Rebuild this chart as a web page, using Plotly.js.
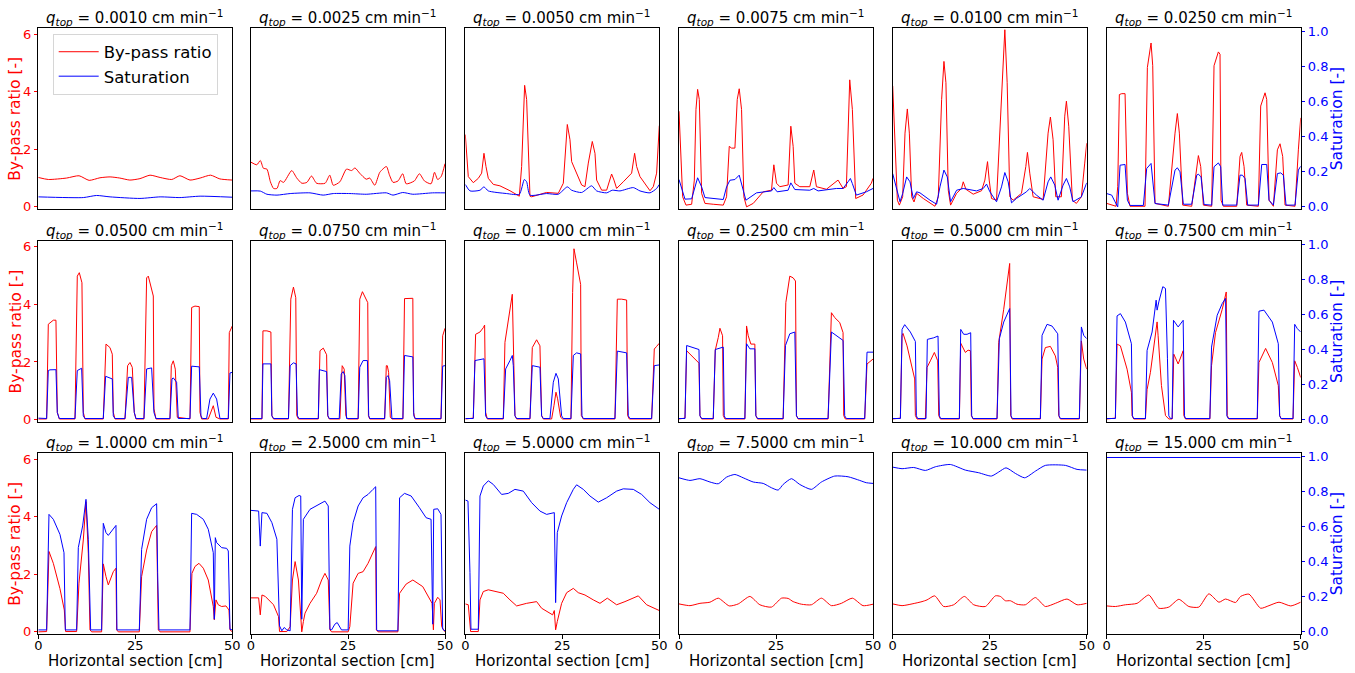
<!DOCTYPE html>
<html>
<head>
<meta charset="utf-8">
<script src="https://cdn.plot.ly/plotly-3.0.1.min.js"></script>
<style>html,body{margin:0;padding:0;background:#fff;}#chart{width:1355px;height:673px;}</style>
</head>
<body>
<div id="chart"></div>
<script>
// ---------------- DATA ----------------
const qLabels = ["0.0010","0.0025","0.0050","0.0075","0.0100","0.0250","0.0500","0.0750","0.1000","0.2500","0.5000","0.7500","1.0000","2.5000","5.0000","7.5000","10.000","15.000"];
const xTicks = [0, 25, 50];
const bpTicks = [0, 2, 4, 6];
const satTicks = [0, 0.2, 0.4, 0.6, 0.8, 1.0];

// q = 0.0010
const bp1x = [0,2.6,7.3,10.5,13.1,15.9,18.5,21,23.6,26.2,28.8,31.4,34.4,36.5,39.1,41.7,44.4,46.8,50];
const bp1y = [1.02,0.95,1.0,1.08,0.92,1.01,1.04,1.0,0.93,0.98,1.1,1.02,0.95,1.08,0.93,1.0,1.1,0.97,0.93];
const sat1x = [0,11.6,15.0,18.5,26.2,31.4,36.5,41.7,50];
const sat1y = [0.057,0.053,0.065,0.057,0.048,0.057,0.053,0.061,0.055];
// q = 0.0025
const bp2x = [0,1.5,2.4,3.2,4.1,5.0,5.8,6.7,7.5,8.4,10.5,11.8,13.1,14.4,15.6,16.9,19.1,20.3,21.2,22.9,24.6,25.9,26.8,28.0,29.7,30.6,31.9,33.2,34.9,35.7,36.6,37.9,39.1,40.0,42.1,43.4,44.7,46.4,47.3,48.1,49.0,50];
const bp2y = [1.55,1.46,1.61,1.34,1.31,0.87,0.64,0.64,0.91,0.85,1.26,1.0,0.82,0.85,1.07,0.82,0.82,1.1,0.75,0.87,1.31,1.26,1.35,1.17,0.96,1.0,0.75,1.2,1.4,1.1,0.85,0.9,1.15,0.8,0.9,1.15,0.9,0.8,1.2,0.95,1.05,1.5];
const sat2x = [0,2.4,4.1,6.7,10.1,15.2,18.6,21.2,25.5,29.7,34.9,36.6,39.1,41.7,46.8,50];
const sat2y = [0.091,0.09,0.072,0.067,0.076,0.08,0.067,0.076,0.076,0.072,0.08,0.067,0.082,0.072,0.08,0.08];
// q = 0.0050
const bp3x = [0,0.77,2.06,3.35,4.21,4.81,5.33,5.93,7.22,8.93,11.51,13.92,14.52,15.29,15.81,16.67,17.1,20.96,23.97,25.26,26.29,26.98,27.41,28.69,29.98,30.84,31.7,32.73,33.42,33.85,35.14,36.43,37.71,38.32,39.0,40.72,42.87,43.64,44.16,45.02,46.74,47.6,48.45,49.31,50];
const bp3y = [2.51,1.05,0.84,0.99,1.17,1.86,1.4,0.99,0.78,0.73,0.56,0.37,1.4,4.22,3.73,0.37,0.35,0.5,0.47,0.82,2.86,2.33,1.57,1.17,0.76,0.7,1.52,2.27,1.86,0.93,0.58,0.58,1.14,0.93,0.64,0.87,1.17,1.86,1.4,1.05,0.7,0.56,0.7,1.17,2.82];
const sat3x = [0,1.2,3.78,4.81,5.93,10.65,13.92,15.21,15.81,16.67,20.96,23.97,26.29,27.41,29.98,32.56,33.85,36.43,37.89,39.86,43.3,45.02,47.6,49.31,50];
const sat3y = [0.128,0.091,0.095,0.114,0.091,0.076,0.072,0.156,0.143,0.067,0.076,0.072,0.114,0.095,0.082,0.12,0.091,0.08,0.095,0.091,0.11,0.091,0.08,0.105,0.128];
// q = 0.0075
const bp4x = [0,0.43,0.94,1.8,3.26,3.95,4.37,4.8,5.23,5.83,6.69,8.83,11.41,12.26,12.95,13.55,14.41,15.01,15.52,16.12,16.72,17.41,19.13,21.7,23.84,24.44,25.13,25.99,28.13,28.82,29.42,29.85,31.13,33.71,34.73,35.42,37.99,40.99,42.28,43.14,44.0,44.68,45.54,47.43,49.57,50];
const bp4y = [3.32,1.75,0.35,0.06,0.09,0.93,3.38,4.08,3.73,0.47,0.12,0.09,0.06,0.35,2.1,2.04,2.04,3.73,4.1,3.38,0.35,0.0,0.12,0.52,0.58,1.46,0.82,0.7,0.76,2.8,2.1,0.82,0.7,0.7,1.28,0.7,0.61,0.93,0.64,0.7,4.41,3.38,0.29,0.41,0.82,0.99];
const sat4x = [0,1.54,3.26,4.8,5.83,6.69,11.41,12.26,13.12,14.41,15.52,16.38,17.24,19.98,23.84,24.44,25.3,28.13,28.82,29.85,33.71,34.73,35.85,40.57,42.28,43.57,44.17,44.68,45.71,48.28,50];
const sat4y = [0.156,0.044,0.046,0.166,0.114,0.053,0.042,0.114,0.152,0.156,0.181,0.114,0.038,0.08,0.091,0.11,0.086,0.095,0.137,0.099,0.095,0.105,0.091,0.105,0.105,0.143,0.162,0.133,0.067,0.086,0.105];
// q = 0.0100
const bp5x = [0,0.6,1.2,1.72,2.57,3.17,3.77,4.29,4.89,5.49,6.17,7.89,10.89,11.75,12.61,13.21,13.72,14.32,14.92,16.47,17.75,18.18,18.87,20.75,22.9,23.76,24.44,24.87,25.47,26.76,28.04,28.9,29.5,30.19,31.05,33.19,34.31,34.73,35.33,36.19,38.77,40.05,40.65,41.34,42.02,43.48,44.34,44.77,45.37,46.31,47.34,48.63,49.49,50];
const bp5y = [4.2,1.98,0.23,0.06,0.35,2.56,3.4,2.56,0.35,0.17,0.47,0.29,0.02,0.35,3.73,5.05,4.31,0.58,0.06,0.47,0.64,0.87,0.61,0.44,0.56,0.93,1.57,0.93,0.29,0.23,3.73,6.15,4.31,0.35,0.23,0.47,1.4,1.89,1.17,0.35,0.26,2.56,3.12,2.33,0.35,0.35,3.15,3.67,2.8,0.23,0.12,0.35,1.52,2.21];
const sat5x = [0,1.2,1.89,2.57,3.6,4.46,5.32,6.17,7.03,9.61,11.32,12.18,13.21,14.07,14.92,16.47,18.18,21.61,23.33,24.19,25.04,26.76,28.04,28.9,29.76,30.62,31.9,34.48,35.33,37.05,38.77,40.05,40.74,41.77,42.62,43.91,44.77,45.63,46.48,48.63,49.49,50];
const sat5y = [0.19,0.076,0.029,0.076,0.171,0.143,0.048,0.086,0.08,0.038,0.015,0.114,0.21,0.171,0.029,0.095,0.105,0.091,0.105,0.13,0.086,0.029,0.114,0.196,0.143,0.023,0.048,0.086,0.105,0.067,0.038,0.143,0.171,0.124,0.038,0.124,0.162,0.114,0.029,0.057,0.114,0.137];
// q = 0.0250
const bp6x = [0,1.29,2.41,2.84,3.26,3.87,4.73,5.33,6.01,9.88,10.48,11.43,11.86,12.46,15.9,17.61,18.21,18.73,19.59,21.91,23.2,23.63,24.23,24.91,27.06,27.66,28.78,29.21,29.47,30.07,33.51,34.36,34.79,35.4,36.08,39.09,39.69,40.81,41.24,41.84,42.96,43.99,44.67,45.36,45.96,48.54,49.4,50];
const bp6y = [0.12,0.08,0.02,0.7,3.9,3.93,3.93,0.47,0.02,0.02,4.84,5.69,4.9,0.12,0.02,2.56,3.24,2.56,0.06,0.02,1.4,1.78,1.4,0.06,0.02,4.9,5.38,5.3,0.23,0.02,0.02,1.75,1.89,1.4,0.06,0.02,3.5,3.96,3.73,0.23,0.02,1.98,2.19,1.75,0.06,0.02,1.98,3.09];
const sat6x = [0,1.29,2.15,2.84,3.44,4.73,5.33,6.01,9.45,10.31,11.43,12.46,15.9,17.61,18.21,18.9,19.76,21.91,23.2,23.63,24.31,25.09,27.06,27.66,28.78,29.38,29.9,33.51,34.36,34.97,35.65,36.34,39.09,39.95,41.24,41.84,42.96,43.99,44.85,45.53,46.22,48.54,49.4,50];
const sat6y = [0.076,0.067,0.029,0.0,0.238,0.242,0.038,0.008,0.008,0.219,0.248,0.019,0.01,0.21,0.223,0.2,0.015,0.015,0.181,0.187,0.171,0.013,0.01,0.229,0.251,0.229,0.01,0.01,0.181,0.181,0.162,0.01,0.01,0.242,0.242,0.038,0.01,0.19,0.194,0.181,0.01,0.01,0.21,0.232];
// q = 0.0500
const bp7x = [0,2.15,2.58,3.87,4.55,4.9,5.41,9.45,10.05,10.57,11.25,11.6,12.03,16.75,17.44,18.47,19.07,19.33,19.76,22.34,23.02,23.63,24.23,24.74,25.17,27.23,27.92,28.35,29.64,29.81,30.33,33.93,34.28,34.79,35.31,35.82,39.09,39.52,40.38,41.49,41.67,42.1,43.81,45.1,45.79,46.82,48.97,49.23,50];
const bp7y = [0.02,0.02,3.31,3.45,3.45,0.25,0.02,0.02,4.98,5.1,4.75,0.25,0.02,0.02,2.62,2.5,2.27,0.25,0.02,0.02,1.87,1.98,1.81,0.25,0.02,0.02,4.92,4.98,4.29,0.37,0.02,0.02,1.87,2.04,1.75,0.08,0.02,3.89,3.94,3.92,0.25,0.02,0.02,0.48,0.08,0.02,0.02,3.02,3.25];
const sat7x = [0,2.15,2.58,3.01,4.55,4.9,5.41,9.45,10.05,11.17,11.6,12.03,16.75,17.35,19.07,19.33,19.76,22.34,23.2,24.06,24.74,25.17,27.23,27.92,29.21,29.81,30.33,33.93,34.45,34.79,35.65,36.08,39.09,39.52,41.49,41.92,42.27,43.38,44.24,45.1,45.96,46.82,48.97,49.4,50];
const sat7y = [0.008,0.006,0.28,0.284,0.285,0.04,0.006,0.006,0.28,0.293,0.021,0.006,0.006,0.247,0.232,0.021,0.006,0.006,0.241,0.241,0.04,0.006,0.006,0.289,0.295,0.04,0.006,0.006,0.232,0.238,0.213,0.006,0.006,0.305,0.301,0.021,0.006,0.006,0.117,0.151,0.117,0.006,0.006,0.266,0.27];
// q = 0.0750
const bp8x = [0,2.82,3.08,4.1,5.13,5.38,5.81,9.66,10.26,10.94,11.54,11.79,12.22,17.35,17.78,18.63,19.49,19.74,20.17,22.91,23.5,24.02,24.44,24.87,27.61,28.03,28.72,29.57,30.09,30.26,30.6,34.44,34.87,35.13,35.47,35.9,36.32,39.15,39.57,41.71,41.88,42.31,48.97,49.4,50];
const bp8y = [0.02,0.02,3.08,3.08,3.04,0.14,0.02,0.02,4.18,4.6,4.23,0.14,0.02,0.02,2.39,2.48,2.25,0.14,0.02,0.02,1.87,1.75,0.14,0.02,0.02,4.18,4.44,4.23,4.06,0.14,0.02,0.02,1.87,1.87,1.64,0.08,0.02,0.02,4.2,4.21,0.25,0.02,0.02,2.91,3.17];
const sat8x = [0,2.82,3.08,5.13,5.38,5.81,9.66,10.09,10.94,11.62,11.97,12.39,17.35,17.61,19.49,19.83,20.17,22.74,23.25,23.76,24.19,24.62,27.61,28.03,28.89,30.0,30.34,30.6,34.44,34.87,35.3,35.73,36.32,39.15,39.57,41.71,41.97,42.31,48.97,49.4,50];
const sat8y = [0.006,0.006,0.318,0.318,0.021,0.006,0.006,0.308,0.324,0.318,0.021,0.006,0.006,0.285,0.274,0.021,0.006,0.006,0.261,0.274,0.251,0.006,0.006,0.299,0.337,0.337,0.021,0.006,0.006,0.241,0.251,0.222,0.006,0.006,0.366,0.358,0.021,0.006,0.006,0.305,0.308];
// q = 0.1000
const bp9x = [0,2.06,2.66,3.78,4.64,4.98,5.24,5.67,9.79,10.22,12.11,12.37,12.8,13.23,16.67,17.27,18.38,19.24,19.67,20.1,22.25,22.85,23.37,23.8,24.57,25.09,27.23,27.66,28.01,28.69,29.73,29.9,30.41,38.57,39.18,40.29,41.58,41.84,42.27,48.02,48.71,49.31,50];
const bp9y = [0.02,0.05,2.96,3.04,3.19,3.28,0.25,0.02,0.02,2.68,4.35,2.33,0.14,0.02,0.02,2.5,2.77,2.56,0.14,0.02,0.02,0.48,0.95,0.72,0.08,0.02,0.02,4.41,5.93,5.44,4.69,0.14,0.02,0.02,4.18,4.18,4.15,0.14,0.02,0.02,2.45,2.54,2.65];
const sat9x = [0,2.06,2.49,4.81,5.24,5.67,9.79,10.4,11.51,12.11,12.37,12.8,13.23,16.67,17.27,19.24,19.67,20.1,21.82,22.68,23.37,23.97,24.83,25.26,27.23,27.84,28.69,29.73,30.07,30.41,38.57,39.18,41.58,42.01,42.44,48.02,48.71,50];
const sat9y = [0.006,0.006,0.337,0.347,0.021,0.006,0.006,0.289,0.337,0.366,0.308,0.021,0.006,0.006,0.308,0.299,0.021,0.006,0.006,0.213,0.264,0.232,0.021,0.006,0.006,0.366,0.381,0.375,0.021,0.006,0.006,0.391,0.381,0.021,0.006,0.006,0.308,0.312];
// q = 0.2500
const bp10x = [0,1.54,1.97,3.69,5.15,5.4,5.83,8.83,9.35,10.12,10.55,11.23,11.41,11.84,16.98,17.41,17.84,18.52,19.55,19.81,20.24,26.84,27.53,28.56,29.42,30.02,30.27,30.7,38.42,39.28,40.14,41.42,42.28,42.45,42.88,47.86,48.46,50];
const bp10y = [0.02,0.05,2.39,2.16,1.96,0.14,0.02,0.02,2.41,2.85,3.17,2.91,0.14,0.02,0.02,3.25,2.91,2.62,2.62,0.14,0.02,0.02,4.06,4.98,4.92,4.81,0.14,0.02,0.02,3.71,3.54,3.37,3.02,0.14,0.02,0.02,1.93,2.1];
const sat10x = [0,1.54,1.97,5.15,5.4,5.83,8.83,9.35,11.41,11.66,12.01,16.98,17.41,18.27,19.55,19.81,20.24,26.84,27.44,28.56,29.85,30.27,30.7,38.42,39.28,42.28,42.71,43.14,47.86,48.46,50];
const sat10y = [0.006,0.006,0.423,0.4,0.021,0.006,0.006,0.4,0.414,0.021,0.006,0.006,0.433,0.404,0.404,0.021,0.006,0.006,0.423,0.49,0.5,0.021,0.006,0.006,0.5,0.452,0.021,0.006,0.006,0.385,0.385];
// q = 0.5000
const bp11x = [0,1.98,2.41,2.66,3.69,5.67,5.84,6.27,8.42,8.85,9.71,10.74,11.6,11.86,12.29,17.18,17.53,18.04,18.73,19.42,20.02,20.27,20.7,26.89,27.32,28.61,30.15,30.41,30.76,38.06,38.49,39.35,40.64,41.92,42.53,42.78,43.21,48.11,48.63,49.23,50];
const bp11y = [0.02,0.05,2.91,2.99,2.56,1.41,0.14,0.02,0.02,1.81,2.04,2.33,2.04,0.14,0.02,0.02,2.65,2.5,2.33,2.41,2.39,0.14,0.02,0.02,2.68,3.83,5.42,0.14,0.02,0.02,2.1,2.5,2.54,2.21,1.81,0.14,0.02,0.02,2.73,2.1,1.75];
const sat11x = [0,1.98,2.41,3.09,4.55,5.84,6.1,6.44,8.59,8.93,10.57,11.68,12.03,12.37,17.18,17.53,18.3,19.16,20.1,20.36,20.7,26.89,27.49,28.61,30.15,30.5,30.84,38.06,38.49,39.78,41.07,42.53,42.87,43.21,48.11,48.63,49.23,50];
const sat11y = [0.006,0.006,0.515,0.542,0.5,0.446,0.021,0.006,0.006,0.458,0.467,0.477,0.021,0.006,0.006,0.515,0.487,0.487,0.496,0.021,0.006,0.006,0.462,0.557,0.634,0.021,0.006,0.006,0.481,0.544,0.534,0.49,0.021,0.006,0.006,0.529,0.481,0.462];
// q = 0.7500
const bp12x = [0,2.24,2.67,3.53,5.25,6.37,6.54,6.97,9.98,10.41,11.27,12.13,12.99,13.25,14.11,15.15,16.01,16.87,17.3,18.42,19.71,19.88,20.31,26.59,27.02,28.05,29.78,30.81,31.07,31.5,38.81,39.24,40.96,42.69,44.23,44.58,45.01,48.02,48.45,49.14,50];
const bp12y = [0.02,0.05,2.62,2.56,1.75,0.95,0.14,0.02,0.02,1.04,1.64,2.45,3.39,2.91,1.18,0.14,0.02,0.02,2.27,1.93,2.39,0.14,0.02,0.02,1.87,3.02,3.83,4.43,0.14,0.02,0.02,1.98,2.47,1.98,1.18,0.14,0.02,0.02,2.04,1.81,1.46];
const sat12x = [0,2.24,2.67,3.53,4.82,6.37,6.63,6.97,9.98,10.41,11.7,12.74,12.99,13.43,14.46,15.15,15.66,16.01,16.44,16.87,17.21,18.42,19.71,20.05,20.31,26.59,27.02,28.48,29.78,30.64,30.98,31.33,38.81,39.24,40.53,42.69,44.23,44.58,44.92,48.02,48.45,49.14,50];
const sat12y = [0.006,0.006,0.592,0.605,0.557,0.433,0.021,0.006,0.006,0.395,0.5,0.682,0.625,0.672,0.759,0.749,0.347,0.021,0.006,0.006,0.567,0.529,0.567,0.021,0.006,0.006,0.414,0.596,0.663,0.692,0.021,0.006,0.006,0.619,0.625,0.557,0.433,0.021,0.006,0.006,0.544,0.519,0.5];
// q = 1.0000
const bp13x = [0,2.15,2.75,3.87,5.58,6.7,7.04,9.88,10.48,11.6,12.29,12.89,13.32,13.75,16.32,16.75,17.44,18.04,19.33,20.02,20.19,20.62,26.03,26.63,27.92,29.21,30.5,30.93,31.36,39.09,39.6,40.38,41.41,42.53,43.81,45.1,45.36,45.53,45.79,46.39,47.25,48.37,49.14,49.4,50];
const bp13y = [0.0,0.01,2.79,2.38,1.5,0.76,0.01,0.01,1.69,3.19,4.52,2.73,0.07,0.0,0.0,2.36,1.92,1.63,2.09,2.21,0.07,0.0,0.0,1.92,2.84,3.48,3.7,0.07,0.0,0.0,2.03,2.27,2.38,2.21,1.8,0.88,0.42,0.65,1.11,0.94,0.88,0.9,0.76,0.07,0.0];
const sat13x = [0,2.15,2.75,3.87,5.58,6.62,6.96,9.88,10.31,11.43,12.29,12.89,13.49,16.32,16.75,17.44,18.04,19.33,20.02,20.27,26.03,26.63,27.92,29.21,30.5,30.76,31.1,39.09,39.52,40.81,42.53,43.81,45.1,45.36,45.62,45.96,47.25,48.54,48.97,49.4,50];
const sat13y = [0.011,0.011,0.671,0.643,0.557,0.452,0.011,0.011,0.481,0.605,0.757,0.529,0.011,0.011,0.62,0.567,0.551,0.586,0.608,0.011,0.011,0.471,0.643,0.709,0.732,0.338,0.011,0.011,0.677,0.671,0.643,0.586,0.452,0.072,0.538,0.51,0.481,0.477,0.462,0.015,0.011];
// q = 2.5000
const bp14x = [0,1.97,2.39,2.82,3.68,5.81,7.09,7.35,9.23,10.09,10.68,11.37,12.22,12.65,13.08,13.5,13.93,15.21,16.92,18.21,19.06,19.91,20.34,20.77,25.04,25.47,26.32,27.61,28.89,30.17,31.45,32.14,32.31,32.74,37.86,38.29,39.99,41.71,44.27,45.98,46.67,47.01,47.26,48.12,48.72,49.15,50];
const bp14y = [1.18,1.18,0.59,1.28,1.23,0.94,0.53,0.01,0.01,0.18,1.8,2.44,1.8,0.76,0.0,0.36,0.65,0.99,1.34,1.8,2.03,1.8,0.07,0.0,0.0,0.18,1.69,2.03,2.09,2.38,2.73,2.96,0.07,0.0,0.0,1.34,1.66,1.8,1.57,1.17,0.99,0.07,0.99,1.2,1.11,0.18,0.0];
const sat14x = [0,1.97,2.39,2.82,4.1,5.38,6.67,7.35,7.95,8.55,9.23,10.09,10.68,11.37,12.39,12.82,13.08,13.5,15.21,17.35,19.06,19.91,20.34,20.77,21.62,22.22,22.91,23.33,25.04,25.47,26.32,27.61,28.89,30.17,31.45,32.14,32.39,32.74,37.86,38.29,39.57,41.28,43.42,45.13,46.41,46.84,47.09,48.12,48.97,49.4,50];
const sat14y = [0.694,0.69,0.49,0.681,0.677,0.624,0.529,0.034,0.006,0.025,0.011,0.006,0.7,0.766,0.779,0.776,0.072,0.643,0.7,0.728,0.747,0.719,0.015,0.011,0.044,0.053,0.025,0.011,0.011,0.49,0.624,0.719,0.766,0.785,0.814,0.829,0.011,0.006,0.006,0.766,0.791,0.776,0.709,0.652,0.643,0.044,0.7,0.703,0.671,0.015,0.006];
// q = 5.0000
const bp15x = [0,0.77,1.37,3.35,3.78,4.64,5.93,7.65,9.79,11.51,13.23,15.81,18.38,19.67,21.39,22.51,22.94,23.28,23.71,24.83,26.12,27.84,29.12,30.84,32.99,34.71,36.6,39.0,41.15,44.59,46.74,48.45,50];
const bp15y = [0.97,0.94,0.01,0.01,1.11,1.4,1.46,1.4,1.34,1.11,0.9,0.99,1.05,0.82,0.67,0.59,0.74,0.07,0.36,0.99,1.36,1.51,1.36,1.28,1.11,0.99,1.17,0.94,1.05,1.25,0.94,0.82,0.74];
const sat15x = [0,0.69,1.2,1.46,3.35,3.78,4.64,5.93,7.22,9.36,11.08,12.8,14.95,17.1,19.24,20.96,22.94,23.28,23.71,24.83,26.12,27.84,28.69,30.41,32.13,34.28,36.43,39.0,40.72,43.3,45.45,47.59,50];
const sat15y = [0.753,0.747,0.338,0.015,0.015,0.776,0.833,0.863,0.842,0.785,0.791,0.814,0.804,0.738,0.69,0.671,0.681,0.167,0.567,0.662,0.738,0.814,0.84,0.814,0.776,0.741,0.766,0.804,0.817,0.814,0.785,0.738,0.7];
// q = 7.5000
const bp16x = [0,2.83,5.4,7.98,10.12,12.95,15.27,18.27,20.84,23.84,26.42,28.13,29.42,31.56,34.13,36.71,39.28,41.85,44.68,47.43,50];
const bp16y = [0.97,0.91,0.99,1.03,1.17,0.9,0.97,1.23,0.94,0.86,1.17,1.16,1.05,0.96,0.94,1.17,0.91,0.99,1.17,0.91,0.96];
const sat16x = [0,2.83,5.4,7.98,10.12,12.26,14.41,16.55,19.13,21.7,23.84,25.56,26.84,28.99,31.13,34.13,36.71,40.14,43.57,46.57,48.28,50];
const sat16y = [0.88,0.865,0.875,0.856,0.846,0.884,0.899,0.88,0.856,0.848,0.823,0.81,0.842,0.875,0.842,0.814,0.856,0.89,0.886,0.865,0.852,0.848];
// q = 10.000
const bp17x = [0,2.41,4.98,7.56,8.85,10.82,13.14,15.72,18.47,20.88,23.88,26.46,27.75,29.04,30.33,32.04,34.19,36.77,39.35,41.92,44.93,47.51,50];
const bp17y = [0.97,0.91,0.97,1.05,1.11,1.25,0.88,0.94,1.23,0.94,0.88,1.25,1.23,1.08,1.08,0.96,0.94,1.19,0.88,0.99,1.14,0.94,0.99];
const sat17x = [0,2.41,5.41,8.42,11.0,14.86,18.73,22.16,25.43,27.32,29.21,31.62,34.02,36.77,39.35,44.5,47.51,50];
const sat17y = [0.941,0.932,0.939,0.922,0.943,0.956,0.924,0.909,0.89,0.913,0.937,0.905,0.88,0.918,0.951,0.951,0.928,0.924];
// q = 15.000
const bp18x = [0,2.24,4.82,7.83,10.84,13.43,16.01,18.59,21.17,23.75,26.33,28.92,30.64,33.22,34.51,36.66,39.67,41.82,44.41,47.42,50];
const bp18y = [0.9,0.88,0.94,0.99,1.28,0.82,0.86,1.13,0.88,0.86,1.32,1.03,1.14,1.02,1.23,1.31,0.82,0.91,1.03,0.9,1.03];
const sat18x = [0,50];
const sat18y = [0.996,0.996];

const bpX = [bp1x,bp2x,bp3x,bp4x,bp5x,bp6x,bp7x,bp8x,bp9x,bp10x,bp11x,bp12x,bp13x,bp14x,bp15x,bp16x,bp17x,bp18x];
const bpY = [bp1y,bp2y,bp3y,bp4y,bp5y,bp6y,bp7y,bp8y,bp9y,bp10y,bp11y,bp12y,bp13y,bp14y,bp15y,bp16y,bp17y,bp18y];
const satX = [sat1x,sat2x,sat3x,sat4x,sat5x,sat6x,sat7x,sat8x,sat9x,sat10x,sat11x,sat12x,sat13x,sat14x,sat15x,sat16x,sat17x,sat18x];
const satY = [sat1y,sat2y,sat3y,sat4y,sat5y,sat6y,sat7y,sat8y,sat9y,sat10y,sat11y,sat12y,sat13y,sat14y,sat15y,sat16y,sat17y,sat18y];

// ---------------- LAYOUT ----------------
const W = 1355, H = 673;
const FONT = "DejaVu Sans, Liberation Sans, sans-serif";
const RED = "#ff0000", BLUE = "#0000ff";
const colLeft = [38.3, 251.0, 465.3, 679.0, 892.7, 1106.7];
const colW = 194;
const rowTop = [28.3, 241.0, 453.3];
const rowH = 181;
const bpRange = [-0.085, 6.2];
const satRange = [-0.014, 1.02];
// panels whose curves are drawn smoothly in the reference
const smoothBp = [0, 1, 15, 16, 17];
const smoothSat = [0, 1, 2, 15, 16];

const traces = [];
const layout = {
  width: W, height: H,
  margin: {l: 0, r: 0, t: 0, b: 0},
  paper_bgcolor: "#fff", plot_bgcolor: "#fff",
  font: {family: FONT, size: 13, color: "#000"},
  showlegend: true,
  legend: {
    x: 52.7 / W, y: 1 - 33.5 / H, xanchor: "left", yanchor: "top",
    bgcolor: "rgba(255,255,255,0.8)", bordercolor: "#d6d6d6", borderwidth: 1,
    font: {family: FONT, size: 16.5, color: "#000"},
    itemwidth: 40,
    tracegroupgap: 0
  },
  annotations: [],
  shapes: []
};

for (let i = 0; i < 18; i++) {
  const n = i + 1;
  const r = Math.floor(i / 6), c = i % 6;
  const x0 = colLeft[c] / W, x1 = (colLeft[c] + colW) / W;
  const yTop = 1 - rowTop[r] / H, yBot = 1 - (rowTop[r] + rowH) / H;
  const xa = n === 1 ? "x" : "x" + n;
  const ya = n === 1 ? "y" : "y" + n;
  const yb = "y" + (18 + n);
  const bottom = r === 2, left = c === 0, right = c === 5;

  layout[n === 1 ? "xaxis" : "xaxis" + n] = {
    domain: [x0, x1], anchor: ya, range: [0, 50], fixedrange: true,
    showgrid: false, zeroline: false,
    showline: true, mirror: true, linecolor: "#000", linewidth: 1,
    tickmode: "array", tickvals: xTicks, ticktext: xTicks.map(String),
    ticks: bottom ? "outside" : "", ticklen: 3.5, tickcolor: "#000",
    showticklabels: bottom, ticklabelstandoff: -4,
    tickfont: {family: FONT, size: 13, color: "#000"}
  };
  layout[n === 1 ? "yaxis" : "yaxis" + n] = {
    domain: [yBot, yTop], anchor: xa, range: bpRange, fixedrange: true,
    showgrid: false, zeroline: false,
    showline: true, mirror: true, linecolor: "#000", linewidth: 1,
    tickmode: "array", tickvals: bpTicks, ticktext: bpTicks.map(String),
    ticks: left ? "outside" : "", ticklen: 3.5, tickcolor: RED,
    showticklabels: left,
    tickfont: {family: FONT, size: 13, color: RED}
  };
  layout["yaxis" + (18 + n)] = {
    domain: [yBot, yTop], anchor: xa, overlaying: ya, side: "right",
    range: satRange, fixedrange: true,
    showgrid: false, zeroline: false, showline: false,
    tickmode: "array", tickvals: satTicks, ticktext: satTicks.map(v => v.toFixed(1)),
    ticks: right ? "outside" : "", ticklen: 3.5, tickcolor: BLUE,
    showticklabels: right,
    tickfont: {family: FONT, size: 13, color: BLUE}
  };

  const bpLine = {color: RED, width: 1};
  if (smoothBp.includes(i)) { bpLine.shape = "spline"; bpLine.smoothing = 0.6; }
  const satLine = {color: BLUE, width: 1};
  if (smoothSat.includes(i)) { satLine.shape = "spline"; satLine.smoothing = 0.6; }

  traces.push({
    type: "scatter", mode: "lines", x: bpX[i], y: bpY[i],
    xaxis: xa, yaxis: ya, name: "By-pass ratio",
    line: bpLine, showlegend: n === 1, hoverinfo: "skip"
  });
  traces.push({
    type: "scatter", mode: "lines", x: satX[i], y: satY[i],
    xaxis: xa, yaxis: yb, name: "Saturation",
    line: satLine, showlegend: n === 1, hoverinfo: "skip"
  });

  // subplot title
  layout.annotations.push({
    xref: "paper", yref: "paper",
    x: (x0 + x1) / 2, y: 1 - (rowTop[r] - 11) / H,
    xanchor: "center", yanchor: "middle", showarrow: false,
    text: "<i>q</i><sub><i>top</i></sub> = " + qLabels[i] + " cm min<sup>\u22121</sup>",
    font: {family: FONT, size: 15, color: "#000"}
  });
  if (bottom) {
    layout.annotations.push({
      xref: "paper", yref: "paper",
      x: (x0 + x1) / 2, y: 1 - 661 / H,
      xanchor: "center", yanchor: "middle", showarrow: false,
      text: "Horizontal section [cm]",
      font: {family: FONT, size: 15, color: "#000"}
    });
  }
  if (left) {
    layout.annotations.push({
      xref: "paper", yref: "paper",
      x: 15 / W, y: 1 - (rowTop[r] + rowH / 2) / H,
      xanchor: "center", yanchor: "middle", showarrow: false, textangle: -90,
      text: "By-pass ratio [-]",
      font: {family: FONT, size: 15.5, color: RED}
    });
  }
  if (right) {
    layout.annotations.push({
      xref: "paper", yref: "paper",
      x: 1336.5 / W, y: 1 - (rowTop[r] + rowH / 2) / H,
      xanchor: "center", yanchor: "middle", showarrow: false, textangle: -90,
      text: "Saturation [-]",
      font: {family: FONT, size: 15.5, color: BLUE}
    });
  }
}

Plotly.newPlot("chart", traces, layout, {displayModeBar: false, staticPlot: true});
</script>
</body>
</html>
